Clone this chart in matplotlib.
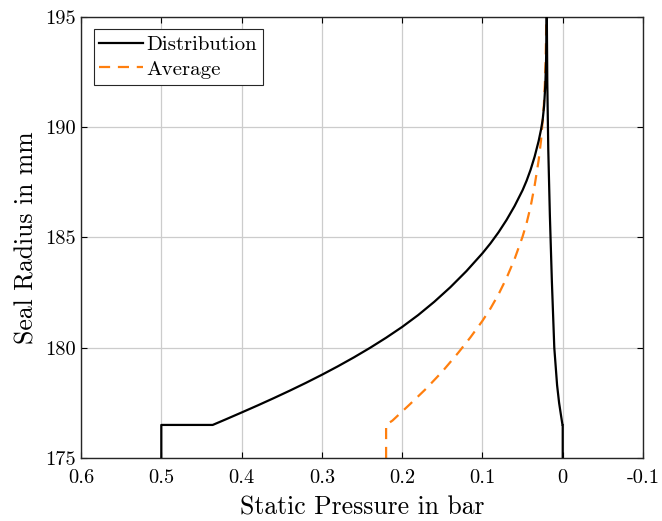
import matplotlib
matplotlib.use("Agg")
import matplotlib.pyplot as plt

plt.rcParams['font.family'] = 'cmr10'
plt.rcParams['mathtext.fontset'] = 'cm'
plt.rcParams['axes.unicode_minus'] = False

# Distribution: left branch going up, then right branch coming down
dist_p = [0.5, 0.5, 0.436, 0.42, 0.40, 0.38, 0.36, 0.34, 0.32, 0.30, 0.28, 0.26,
          0.24, 0.22, 0.20, 0.18, 0.16, 0.14, 0.12, 0.10, 0.09, 0.08, 0.07, 0.06,
          0.05, 0.045, 0.04, 0.035, 0.03, 0.027, 0.025, 0.0232, 0.0217, 0.0208,
          0.0203, 0.020,
          0.0198, 0.0192, 0.0180, 0.0160, 0.0135, 0.0105, 0.0070, 0.0045, 0.0020,
          0.0003, 0.0, 0.0]
dist_r = [175, 176.5, 176.5, 176.748, 177.064, 177.384, 177.714, 178.054, 178.406,
          178.774, 179.16, 179.566, 179.996, 180.454, 180.944, 181.484, 182.084,
          182.744, 183.474, 184.284, 184.734, 185.234, 185.794, 186.424,
          187.144, 187.574, 188.074, 188.664, 189.374, 189.9, 190.33, 190.96, 191.9,
          192.9, 193.9, 195,
          195, 192, 189, 186, 183, 180, 178.3, 177.5, 176.9,
          176.5, 176.5, 175]

avg_p = [0.22, 0.22, 0.212, 0.19, 0.17, 0.15, 0.13, 0.115, 0.10, 0.09, 0.08, 0.07,
         0.06, 0.05, 0.045, 0.04, 0.035, 0.03, 0.027, 0.025, 0.0235, 0.0222,
         0.0213, 0.0208, 0.0205]
avg_r = [175, 176.5, 176.7, 177.45, 178.15, 178.92, 179.78, 180.47, 181.22, 181.78,
         182.42, 183.16, 184.02, 185.04, 185.65, 186.4, 187.35, 188.5, 189.4, 190.3,
         191.0, 192.0, 193.0, 194.0, 195]

xticks = [0.6, 0.5, 0.4, 0.3, 0.2, 0.1, 0, -0.1]
xlabels = ['0.6', '0.5', '0.4', '0.3', '0.2', '0.1', '0', '-0.1']
yticks = [175, 180, 185, 190, 195]

fig = plt.figure(figsize=(6.62, 5.21), dpi=100)
ax = fig.add_axes([0.1224, 0.1209, 0.8489, 0.8465])

ax.plot(dist_p, dist_r, color='black', lw=1.6, label='Distribution', zorder=3)
ax.plot(avg_p, avg_r, color='#ff7f0e', lw=1.6, dashes=(5, 3.5), label='Average', zorder=2)

ax.set_xlim(0.6, -0.1)
ax.set_ylim(175, 195)
ax.set_xticks(xticks)
ax.set_xticklabels(xlabels)
ax.set_yticks(yticks)
ax.tick_params(direction='in', top=True, right=True, labelsize=14.7, length=4, width=0.8)
ax.tick_params(axis='x', pad=8)
ax.grid(True, color='#cccccc', lw=0.9)
ax.set_axisbelow(True)
for s in ax.spines.values():
    s.set_linewidth(1.0)
    s.set_color('#262626')

ax.set_xlabel('Static Pressure in bar', fontsize=18.5, labelpad=6)
ax.set_ylabel('Seal Radius in mm', fontsize=18.5, labelpad=5)

leg = ax.legend(loc='upper left', fontsize=15, fancybox=False, framealpha=1,
                edgecolor='#262626', borderpad=0.28, labelspacing=0.3,
                handlelength=2.1, handletextpad=0.15, borderaxespad=0.6)
leg.get_frame().set_linewidth(0.8)

fig.savefig('out.png', dpi=100)
